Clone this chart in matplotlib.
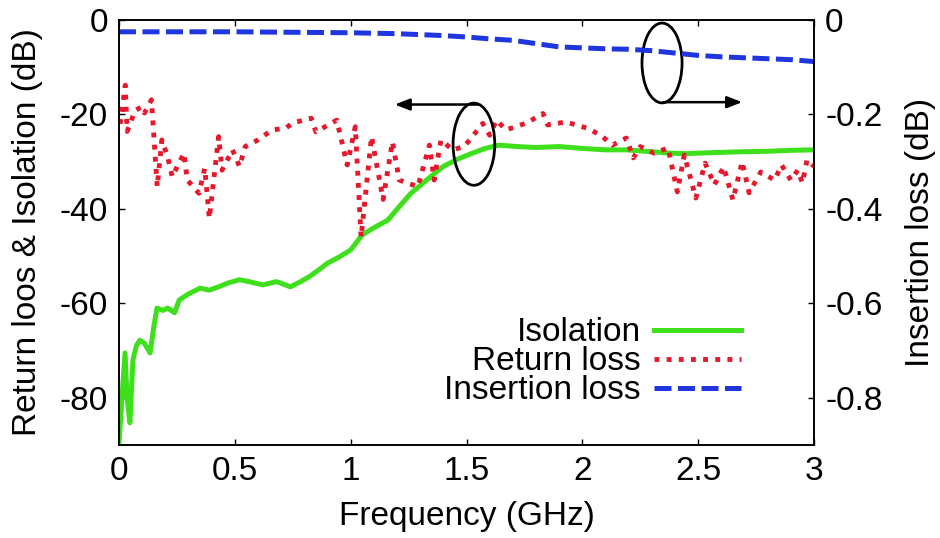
import matplotlib
matplotlib.use("Agg")
import matplotlib.pyplot as plt
from matplotlib.patches import Ellipse

plt.rcParams['font.family'] = ['Liberation Sans', 'DejaVu Sans']

# Isolation (left axis, dB)
iso_f = [0.0, 0.01, 0.026, 0.035, 0.047, 0.06, 0.075, 0.09, 0.11, 0.134,
         0.15, 0.164, 0.19, 0.21, 0.24, 0.26, 0.3, 0.35, 0.39, 0.43,
         0.47, 0.52, 0.57, 0.62, 0.68, 0.74, 0.78, 0.82, 0.86, 0.90,
         0.95, 1.0, 1.05, 1.1, 1.16, 1.21, 1.26, 1.33, 1.40, 1.46,
         1.52, 1.58, 1.64, 1.72, 1.80, 1.90, 2.0, 2.1, 2.19, 2.3,
         2.38, 2.45, 2.55, 2.69, 2.8, 2.9, 3.0]
iso_db = [-89.5, -82, -70.5, -80, -85.3, -72, -69, -67.8, -68.5, -70.5,
          -65, -61, -61.5, -61, -62, -59.3, -58, -56.8, -57.2, -56.5,
          -55.7, -55, -55.5, -56.1, -55.4, -56.5, -55.5, -54.4, -53, -51.5,
          -50.2, -48.7, -45.5, -44, -42.4, -39.5, -36.7, -33.8, -31, -29.5,
          -28.3, -27.2, -26.5, -26.8, -27, -26.8, -27.2, -27.5, -27.5, -27.9,
          -28.2, -28.3, -28.1, -27.9, -27.8, -27.6, -27.5]

# Return loss (left axis, dB)
rl_f = [0.005, 0.027, 0.035, 0.07, 0.10, 0.11, 0.14, 0.165, 0.185, 0.21,
        0.23, 0.28, 0.295, 0.345, 0.37, 0.39, 0.43, 0.445, 0.49, 0.52,
        0.545, 0.60, 0.66, 0.72, 0.75, 0.83, 0.85, 0.94, 0.985, 1.02,
        1.045, 1.09, 1.14, 1.18, 1.21, 1.29, 1.34, 1.36, 1.39, 1.44,
        1.49, 1.53, 1.57, 1.60, 1.63, 1.67, 1.76, 1.83, 1.85, 1.93,
        2.02, 2.08, 2.13, 2.19, 2.22, 2.25, 2.31, 2.37, 2.41, 2.44,
        2.49, 2.53, 2.57, 2.61, 2.65, 2.69, 2.72, 2.77, 2.83, 2.86,
        2.90, 2.93, 2.95, 2.97, 3.0]
rl_db = [-22, -13.8, -23.6, -19.1, -18.4, -19.7, -16.9, -35.3, -25.4, -29,
         -33.2, -28.2, -33.9, -36.7, -31.4, -42, -24.7, -31.8, -27.5, -31,
         -26.8, -25.4, -23.3, -22.9, -21.8, -20.8, -23.7, -21.2, -30.7, -22.6,
         -46, -24.7, -38, -25.8, -33.9, -35.3, -26.5, -33.9, -25.4, -27.5,
         -26.8, -24.4, -21.9, -24.4, -21.2, -23.3, -21.8, -19.8, -22.2, -21.6,
         -22.9, -24.4, -26.5, -25, -29.2, -26.8, -28.2, -27.1, -36.4, -28.6,
         -37.7, -30.3, -34.9, -31.1, -38.1, -30, -36.6, -32.2, -33.9, -30.7,
         -33.9, -31.8, -34.5, -29.6, -31]

# Insertion loss (right axis, dB)
il_f = [0, 0.25, 0.5, 0.75, 1.0, 1.2, 1.4, 1.5, 1.6, 1.7, 1.8, 1.9, 2.0,
        2.1, 2.2, 2.3, 2.4, 2.5, 2.6, 2.7, 2.8, 2.9, 3.0]
il_db = [-0.025, -0.025, -0.025, -0.026, -0.027, -0.029, -0.033, -0.036,
         -0.040, -0.043, -0.050, -0.057, -0.059, -0.061, -0.062, -0.065,
         -0.070, -0.075, -0.078, -0.080, -0.082, -0.084, -0.088]

x_ticks = [0, 0.5, 1, 1.5, 2, 2.5, 3]
x_ticklabels = ['0', '0.5', '1', '1.5', '2', '2.5', '3']
yl_ticks = [0, -20, -40, -60, -80]
yr_ticks = [0, -0.2, -0.4, -0.6, -0.8]
yr_ticklabels = ['0', '-0.2', '-0.4', '-0.6', '-0.8']

FS = 24
fig = plt.figure(figsize=(9.4, 5.38), dpi=100)
ax = fig.add_axes([119 / 940, 93 / 538, 695 / 940, 425 / 538])
ax2 = ax.twinx()

l1, = ax.plot(iso_f, iso_db, color='#3ee01c', lw=3.6, label='Isolation',
              solid_joinstyle='round', zorder=2)
l2, = ax.plot(rl_f, rl_db, color='#e8182c', lw=3.5, linestyle=(0, (1, 1.5)),
              label='Return loss', zorder=3)
l3, = ax2.plot(il_f, il_db, color='#1f35e0', lw=3.6, linestyle=(0, (3.4, 1.3)),
               label='Insertion loss')

ax.set_xlim(0, 3)
ax.set_ylim(-90, 0)
ax2.set_ylim(-0.9, 0)
ax.set_xticks(x_ticks)
ax.set_xticklabels(x_ticklabels)
ax.set_yticks(yl_ticks)
ax.set_yticklabels([str(v) for v in yl_ticks])
ax2.set_yticks(yr_ticks)
ax2.set_yticklabels(yr_ticklabels)

ax.tick_params(axis='x', direction='in', length=4, width=1, top=True,
               labelsize=FS, pad=8)
ax.tick_params(axis='y', direction='in', length=4, width=1, labelsize=FS, pad=8)
ax2.tick_params(axis='y', direction='in', length=4, width=1, labelsize=FS, pad=8)
for a in (ax, ax2):
    for s in a.spines.values():
        s.set_linewidth(1.2)

ax.set_xlabel('Frequency (GHz)', fontsize=FS, labelpad=10)
ax.set_ylabel('Return loos & Isolation (dB)', fontsize=FS, labelpad=12)
ax2.set_ylabel('Insertion loss (dB)', fontsize=FS, labelpad=16)

# annotations
ax.add_patch(Ellipse((1.532, -26.3), 0.18, 17.4, fill=False, ec='black', lw=2.0, zorder=5))
ax.add_patch(Ellipse((2.344, -9.1), 0.173, 16.9, fill=False, ec='black', lw=2.0, zorder=5))
ax.annotate('', xy=(1.19, -17.9), xytext=(1.55, -17.9),
            arrowprops=dict(arrowstyle='-|>,head_length=0.9,head_width=0.35',
                            color='black', lw=1.8, shrinkA=0, shrinkB=0), zorder=5)
ax.annotate('', xy=(2.69, -17.4), xytext=(2.35, -17.4),
            arrowprops=dict(arrowstyle='-|>,head_length=0.9,head_width=0.35',
                            color='black', lw=1.8, shrinkA=0, shrinkB=0), zorder=5)

leg = ax2.legend(handles=[l1, l2, l3], loc='center right',
                 bbox_to_anchor=(0.895, 0.196), frameon=False, fontsize=FS,
                 markerfirst=False, handlelength=2.6, handletextpad=0.4,
                 labelspacing=-0.06, borderpad=0, borderaxespad=0)
for t in leg.get_texts():
    t.set_ha('right')

fig.savefig('out.png', dpi=100)
